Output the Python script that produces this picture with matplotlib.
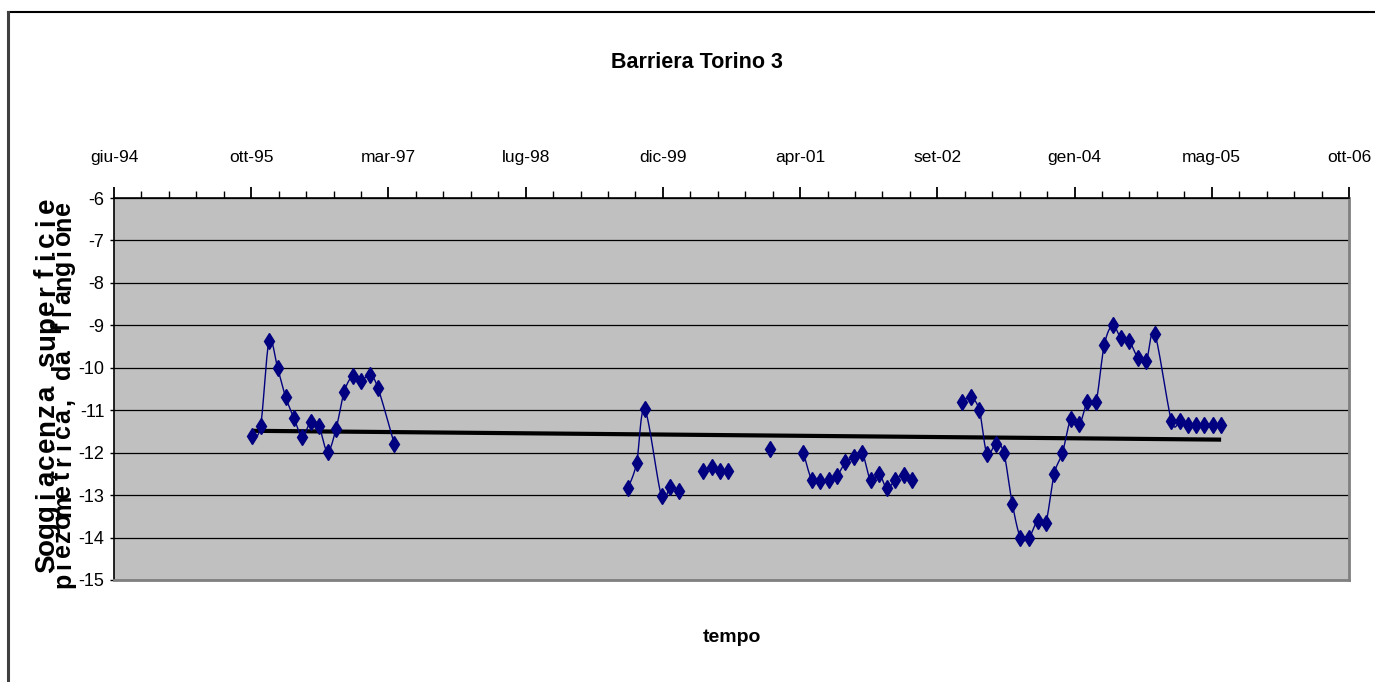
import datetime as dt
import numpy as np
import matplotlib
matplotlib.use("Agg")
import matplotlib.pyplot as plt
import matplotlib.dates as mdates
from matplotlib.lines import Line2D
from matplotlib.ticker import FixedLocator, FuncFormatter

plt.rcParams['font.family'] = ['Liberation Sans', 'DejaVu Sans']
plt.rcParams['axes.unicode_minus'] = False

# monthly readings, None = blank cell (breaks the line)
mesi = [
    "1995-11", "1995-12", "1996-01", "1996-02", "1996-03", "1996-04", "1996-05",
    "1996-06", "1996-07", "1996-08", "1996-09", "1996-10", "1996-11", "1996-12",
    "1997-01", "1997-02", "1997-04", "1997-05",
    "1999-08", "1999-09", "1999-10", "1999-12", "2000-01", "2000-02", "2000-03",
    "2000-04", "2000-05", "2000-06", "2000-07", "2000-08", "2000-09", "2000-10",
    "2000-11", "2000-12", "2001-01", "2001-02", "2001-03", "2001-04", "2001-05",
    "2001-06", "2001-07", "2001-08", "2001-09", "2001-10", "2001-11", "2001-12",
    "2002-01", "2002-02", "2002-03", "2002-04", "2002-05", "2002-06", "2002-07",
    "2002-12", "2003-01", "2003-02", "2003-03", "2003-04", "2003-05", "2003-06",
    "2003-07", "2003-08", "2003-09", "2003-10", "2003-11", "2003-12", "2004-01",
    "2004-02", "2004-03", "2004-04", "2004-05", "2004-06", "2004-07", "2004-08",
    "2004-09", "2004-10", "2004-11", "2005-01", "2005-02", "2005-03", "2005-04",
    "2005-05", "2005-06", "2005-07",
]
soggiacenza = [
    -11.60, -11.38, -9.37, -10.00, -10.68, -11.19, -11.62,
    -11.27, -11.38, -11.98, -11.44, -10.56, -10.20, -10.32,
    -10.16, -10.48, -11.79, None,
    -12.83, -12.25, -10.98, -13.03, -12.81, -12.91, None,
    None, -12.44, -12.33, -12.44, -12.44, None, None,
    None, None, -11.91, None, None, None, -12.00,
    -12.65, -12.67, -12.64, -12.54, -12.23, -12.11, -12.00,
    -12.65, -12.50, -12.84, -12.64, -12.52, -12.64, None,
    -10.80, -10.70, -11.00, -12.04, -11.80, -12.00, -13.20,
    -14.00, -14.00, -13.60, -13.65, -12.50, -12.00, -11.20,
    -11.33, -10.80, -10.80, -9.47, -9.00, -9.30, -9.38,
    -9.77, -9.85, -9.20, -11.25, -11.25, -11.35, -11.35,
    -11.35, -11.35, -11.35,
]

mesi_it = ['gen', 'feb', 'mar', 'apr', 'mag', 'giu',
           'lug', 'ago', 'set', 'ott', 'nov', 'dic']
titolo = "Barriera Torino 3"
etichetta_x = "tempo"
etichetta_y = ["Soggiacenza superficie", "piezometrica, da flangione"]

x = np.array([mdates.date2num(dt.datetime.strptime(m, "%Y-%m")) for m in mesi])
y = np.array([np.nan if v is None else v for v in soggiacenza])


def smooth(px, py, n=16):
    # excel-like smoothed line (catmull-rom as bezier)
    if len(px) < 2:
        return px, py
    P = np.column_stack([px, py])
    out = [P[0]]
    t = np.linspace(0, 1, n)[1:, None]
    for i in range(len(P) - 1):
        p0 = P[max(i - 1, 0)]
        p1, p2 = P[i], P[i + 1]
        p3 = P[min(i + 2, len(P) - 1)]
        c1 = p1 + (p2 - p0) / 6
        c2 = p2 - (p3 - p1) / 6
        seg = ((1 - t) ** 3 * p1 + 3 * (1 - t) ** 2 * t * c1
               + 3 * (1 - t) * t ** 2 * c2 + t ** 3 * p2)
        out.extend(seg)
    out = np.array(out)
    return out[:, 0], out[:, 1]


W, H = 1375, 682
fig = plt.figure(figsize=(W / 100, H / 100), dpi=100)
ax = fig.add_axes([114 / W, 1 - 580 / H, 1235 / W, 382 / H])
ax.set_facecolor('#C0C0C0')

# data line, split at blank cells
ok = ~np.isnan(y)
start = None
for i in range(len(y) + 1):
    if i < len(y) and ok[i]:
        if start is None:
            start = i
    elif start is not None:
        sx, sy = smooth(x[start:i], y[start:i])
        ax.plot(sx, sy, color='#000080', lw=1.0, zorder=4)
        start = None
ax.plot(x[ok], y[ok], ls='none', marker='d', ms=8.5, color='#000080', zorder=5)

# linear trend
k, q = np.polyfit(x[ok], y[ok], 1)
xt = np.array([x[ok].min(), x[ok].max()])
ax.plot(xt, k * xt + q, color='black', lw=3, zorder=3, solid_capstyle='butt')

x0 = mdates.date2num(dt.datetime(1994, 6, 15))
x1 = x0 + 4500
ax.set_xlim(x0, x1)
ax.set_ylim(-15, -6)
ax.set_yticks(range(-15, -5))
ax.yaxis.grid(True, color='black', lw=0.9)
ax.set_axisbelow(True)

ax.xaxis.set_major_locator(FixedLocator(np.arange(x0, x1 + 1, 500)))
ax.xaxis.set_minor_locator(FixedLocator(np.arange(x0, x1 + 1, 100)))


def fmt(v, pos):
    d = mdates.num2date(v)
    return f"{mesi_it[d.month - 1]}-{d.year % 100:02d}"


ax.xaxis.set_major_formatter(FuncFormatter(fmt))
ax.xaxis.tick_top()
ax.tick_params(axis='x', which='major', direction='out', length=8, width=1.3,
               pad=16, labelsize=12.5)
ax.tick_params(axis='x', which='minor', direction='out', length=5, width=1)
ax.tick_params(axis='y', direction='out', length=3, width=1, pad=4, labelsize=13)

for s in ('top', 'left'):
    ax.spines[s].set_color('black')
    ax.spines[s].set_linewidth(1.2)
for s in ('bottom', 'right'):
    ax.spines[s].set_color('#808080')
    ax.spines[s].set_linewidth(2)

fig.text(697 / W, 1 - 62 / H, titolo, ha='center', va='center',
         fontsize=15.5, fontweight='bold')
fig.text(732 / W, 1 - 637 / H, etichetta_x, ha='center', va='center',
         fontsize=14, fontweight='bold')

# garbled, letter-spaced vertical axis title
for riga, xb, y_lo, y_hi, fs in ((etichetta_y[0], 54, 564, 205, 20),
                                 (etichetta_y[1], 70, 580, 208, 18)):
    pos = np.linspace(y_lo, y_hi, len(riga))
    for ch, yy in zip(riga, pos):
        if ch == ' ':
            continue
        fig.text(xb / W, 1 - yy / H, ch, rotation=90, rotation_mode='anchor',
                 ha='center', va='baseline', fontsize=fs, fontweight='bold')

# chart border
fig.add_artist(Line2D([8 / W, 1], [1 - 12 / H] * 2, color='black', lw=1.5))
fig.add_artist(Line2D([8 / W] * 2, [0, 1 - 12 / H], color='#404040', lw=2.2))

fig.savefig("out.png", dpi=100)
